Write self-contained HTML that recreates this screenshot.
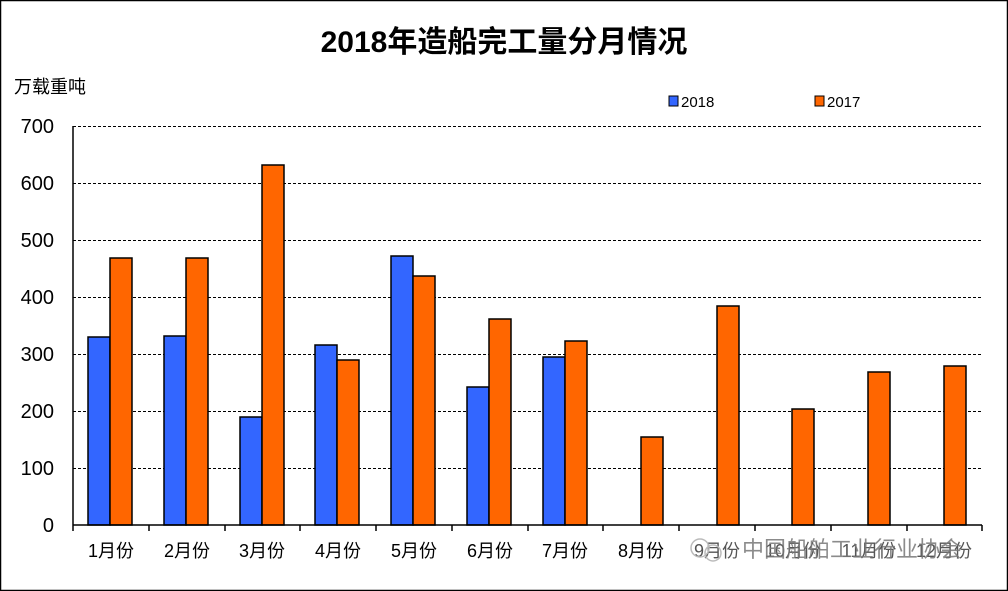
<!DOCTYPE html>
<html><head><meta charset="utf-8"><style>
html,body{margin:0;padding:0;background:#fff}
svg{display:block}
text{font-family:"Liberation Sans","Noto Sans CJK SC",sans-serif}
</style></head><body>
<svg width="1008" height="591" viewBox="0 0 1008 591" xmlns="http://www.w3.org/2000/svg">
<rect x="0.5" y="0.5" width="1007" height="590" fill="#fff" stroke="#000" stroke-width="1.5"/>
<text x="504" y="52" text-anchor="middle" font-size="30" font-weight="bold" fill="#000">2018年造船完工量分月情况</text>
<text x="14" y="93" font-size="18" fill="#000">万载重吨</text>
<g stroke="#000" stroke-width="1" stroke-dasharray="3,2">
<line x1="73" y1="126.5" x2="982" y2="126.5"/>
<line x1="73" y1="183.5" x2="982" y2="183.5"/>
<line x1="73" y1="240.5" x2="982" y2="240.5"/>
<line x1="73" y1="297.5" x2="982" y2="297.5"/>
<line x1="73" y1="354.5" x2="982" y2="354.5"/>
<line x1="73" y1="411.5" x2="982" y2="411.5"/>
<line x1="73" y1="468.5" x2="982" y2="468.5"/>
</g>
<g font-size="20" text-anchor="end" fill="#000">
<text x="54" y="133">700</text><text x="54" y="190">600</text><text x="54" y="247">500</text>
<text x="54" y="304">400</text><text x="54" y="361">300</text><text x="54" y="418">200</text>
<text x="54" y="475">100</text><text x="54" y="532">0</text>
</g>
<g stroke="#000" stroke-width="1.5">
<rect x="88" y="337" width="22" height="188" fill="#3366ff"/>
<rect x="110" y="258" width="22" height="267" fill="#ff6600"/>
<rect x="164" y="336" width="22" height="189" fill="#3366ff"/>
<rect x="186" y="258" width="22" height="267" fill="#ff6600"/>
<rect x="240" y="417" width="22" height="108" fill="#3366ff"/>
<rect x="262" y="165" width="22" height="360" fill="#ff6600"/>
<rect x="315" y="345" width="22" height="180" fill="#3366ff"/>
<rect x="337" y="360" width="22" height="165" fill="#ff6600"/>
<rect x="391" y="256" width="22" height="269" fill="#3366ff"/>
<rect x="413" y="276" width="22" height="249" fill="#ff6600"/>
<rect x="467" y="387" width="22" height="138" fill="#3366ff"/>
<rect x="489" y="319" width="22" height="206" fill="#ff6600"/>
<rect x="543" y="357" width="22" height="168" fill="#3366ff"/>
<rect x="565" y="341" width="22" height="184" fill="#ff6600"/>
<rect x="641" y="437" width="22" height="88" fill="#ff6600"/>
<rect x="717" y="306" width="22" height="219" fill="#ff6600"/>
<rect x="792" y="409" width="22" height="116" fill="#ff6600"/>
<rect x="868" y="372" width="22" height="153" fill="#ff6600"/>
<rect x="944" y="366" width="22" height="159" fill="#ff6600"/>
</g>
<g stroke="#000" stroke-width="1.5">
<line x1="73" y1="126" x2="73" y2="525"/>
<line x1="73" y1="525" x2="982" y2="525"/>
<line x1="149" y1="525" x2="149" y2="531"/><line x1="225" y1="525" x2="225" y2="531"/>
<line x1="300" y1="525" x2="300" y2="531"/><line x1="376" y1="525" x2="376" y2="531"/>
<line x1="452" y1="525" x2="452" y2="531"/><line x1="528" y1="525" x2="528" y2="531"/>
<line x1="603" y1="525" x2="603" y2="531"/><line x1="679" y1="525" x2="679" y2="531"/>
<line x1="755" y1="525" x2="755" y2="531"/><line x1="831" y1="525" x2="831" y2="531"/>
<line x1="907" y1="525" x2="907" y2="531"/><line x1="982" y1="525" x2="982" y2="531"/>
<line x1="73" y1="525" x2="73" y2="531"/>
</g>
<g font-size="18" text-anchor="middle" fill="#000">
<text x="111" y="557">1月份</text><text x="187" y="557">2月份</text><text x="262" y="557">3月份</text>
<text x="338" y="557">4月份</text><text x="414" y="557">5月份</text><text x="490" y="557">6月份</text>
<text x="565" y="557">7月份</text><text x="641" y="557">8月份</text>
<text x="717" y="557" fill="#555">9月份</text><text x="793" y="557" fill="#555">10月份</text>
<text x="869" y="557" fill="#555">11月份</text><text x="944" y="557" fill="#555">12月份</text>
</g>
<text x="852" y="557" text-anchor="middle" font-size="22" fill="#777" opacity="0.85">中国船舶工业行业协会</text>
<circle cx="700" cy="548" r="9" fill="none" stroke="#bbb" stroke-width="1.5"/>
<circle cx="713" cy="553" r="8" fill="none" stroke="#bbb" stroke-width="1.5"/>
<rect x="669" y="96" width="9" height="10" fill="#3366ff" stroke="#000"/>
<text x="681" y="107" font-size="15" font-family="Liberation Serif" fill="#000">2018</text>
<rect x="815" y="96" width="9" height="10" fill="#ff6600" stroke="#000"/>
<text x="827" y="107" font-size="15" font-family="Liberation Serif" fill="#000">2017</text>
</svg>
</body></html>
